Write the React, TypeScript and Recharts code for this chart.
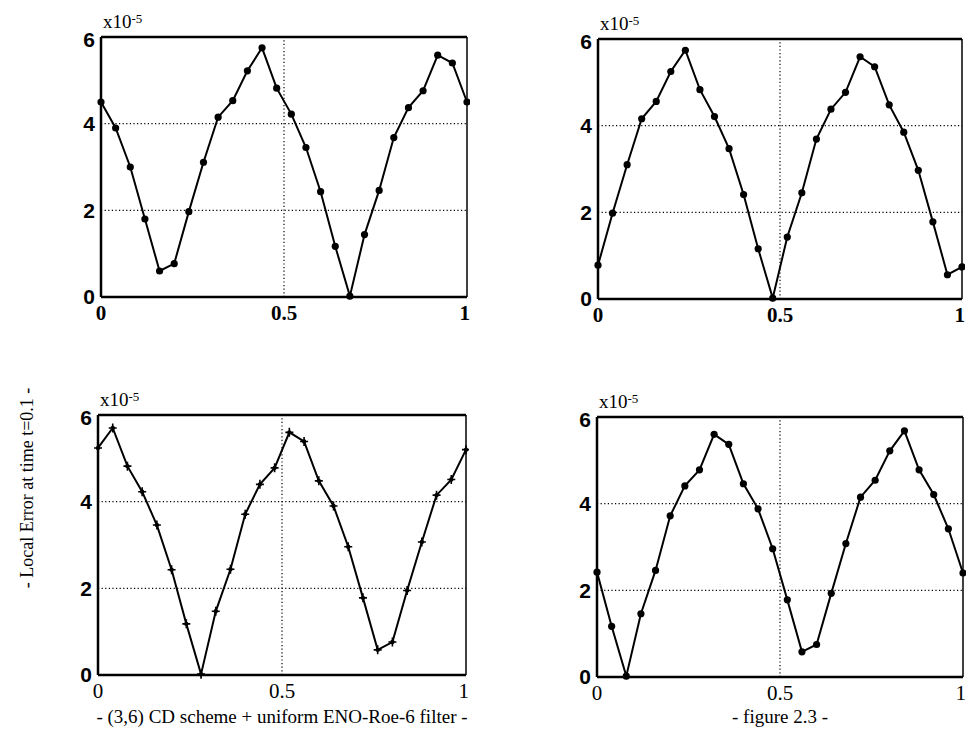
import { LineChart, Line, XAxis, YAxis, ReferenceLine } from 'recharts'

const X_VALUES = [
  0, 0.04, 0.08, 0.12, 0.16, 0.2, 0.24, 0.28, 0.32, 0.36, 0.4, 0.44, 0.48,
  0.52, 0.56, 0.6, 0.64, 0.68, 0.72, 0.76, 0.8, 0.84, 0.88, 0.92, 0.96, 1
]

// errors in units of 1e-5
const TOP_LEFT = [
  4.5, 3.9, 3.0, 1.8, 0.6, 0.77, 1.97, 3.11, 4.15, 4.53, 5.22, 5.75, 4.82,
  4.22, 3.45, 2.43, 1.17, 0.02, 1.44, 2.46, 3.68, 4.37, 4.76, 5.58, 5.4, 4.5
]
const TOP_RIGHT = [
  0.78, 1.98, 3.1, 4.16, 4.56, 5.25, 5.74, 4.83, 4.21, 3.47, 2.41, 1.16, 0.02,
  1.43, 2.45, 3.69, 4.38, 4.77, 5.59, 5.36, 4.48, 3.85, 2.97, 1.78, 0.56, 0.74
]
const BOTTOM_LEFT = [
  5.24, 5.7, 4.82, 4.23, 3.46, 2.43, 1.18, 0.02, 1.47, 2.44, 3.71, 4.4, 4.78,
  5.6, 5.39, 4.48, 3.9, 2.96, 1.78, 0.58, 0.76, 1.95, 3.07, 4.15, 4.51, 5.2
]
const BOTTOM_RIGHT = [
  2.42, 1.17, 0.02, 1.46, 2.46, 3.72, 4.41, 4.78, 5.6, 5.37, 4.46, 3.88, 2.96,
  1.78, 0.58, 0.75, 1.93, 3.08, 4.15, 4.54, 5.22, 5.68, 4.78, 4.21, 3.42, 2.4
]

const X_TICKS = [0, 0.5, 1]
const Y_TICKS = [0, 2, 4, 6]

const toRows = (ys: number[]) => X_VALUES.map((x, i) => ({ x, y: ys[i] }))

const DotMarker = (props: any) => {
  const { cx, cy } = props
  if (cx == null || cy == null) return null
  return <circle cx={cx} cy={cy} r={3.6} fill="#000" />
}

const StarMarker = (props: any) => {
  const { cx, cy } = props
  if (cx == null || cy == null) return null
  return (
    <g>
      <path d={`M${cx - 4},${cy} L${cx + 4},${cy} M${cx},${cy - 4.5} L${cx},${cy + 4.5}`} stroke="#000" strokeWidth={1.6} />
      <circle cx={cx} cy={cy} r={2.2} fill="#000" />
    </g>
  )
}

const Y_LEFT = 40
const M_TOP = 10

function Panel({
  ys,
  left,
  top,
  width,
  height,
  star,
  serifX
}: {
  ys: number[]
  left: number
  top: number
  width: number
  height: number
  star?: boolean
  serifX?: boolean
}) {
  const xTick = serifX
    ? { fill: '#000', fontSize: 21, fontFamily: 'Liberation Serif' }
    : { fill: '#000', fontSize: 21, fontWeight: 700, fontFamily: 'Liberation Serif' }
  return (
    <div style={{ position: 'absolute', left: left - Y_LEFT, top: top - M_TOP }}>
      <LineChart
        width={Y_LEFT + width + 3}
        height={M_TOP + height + 40}
        data={toRows(ys)}
        margin={{ top: M_TOP, right: 3, left: 0, bottom: 10 }}
      >
        <XAxis
          dataKey="x"
          type="number"
          domain={[0, 1]}
          ticks={X_TICKS}
          tickFormatter={(v: number) => String(v)}
          tick={xTick}
          tickLine={false}
          tickSize={4}
          tickMargin={4}
          height={30}
          axisLine={{ stroke: '#000', strokeWidth: 2.5 }}
        />
        <YAxis
          type="number"
          domain={[0, 6]}
          ticks={Y_TICKS}
          tick={{ fill: '#000', fontSize: 21, fontWeight: 700, fontFamily: 'Liberation Sans' }}
          tickLine={false}
          tickSize={4}
          tickMargin={2}
          width={Y_LEFT}
          axisLine={{ stroke: '#000', strokeWidth: 2.5 }}
        />
        <ReferenceLine y={2} stroke="#000" strokeWidth={1.2} strokeDasharray="1.2 2.4" />
        <ReferenceLine y={4} stroke="#000" strokeWidth={1.2} strokeDasharray="1.2 2.4" />
        <ReferenceLine x={0.5} stroke="#000" strokeWidth={1.2} strokeDasharray="1.2 2.4" />
        <ReferenceLine y={6} stroke="#000" strokeWidth={2.5} />
        <ReferenceLine x={1} stroke="#000" strokeWidth={1.5} />
        <Line
          dataKey="y"
          stroke="#000"
          strokeWidth={2}
          dot={star ? <StarMarker /> : <DotMarker />}
          isAnimationActive={false}
        />
      </LineChart>
      <div
        style={{
          position: 'absolute',
          left: Y_LEFT + 2,
          top: -15,
          fontFamily: 'Liberation Serif',
          fontSize: 19,
          lineHeight: '19px',
          color: '#000',
          whiteSpace: 'nowrap'
        }}
      >
        x10<sup style={{ fontSize: 13, verticalAlign: 'top', position: 'relative', top: -3 }}>-5</sup>
      </div>
    </div>
  )
}

export default function App() {
  return (
    <div
      style={{
        position: 'absolute',
        left: 0,
        top: 0,
        width: 966,
        height: 749,
        overflow: 'hidden',
        background: '#fff'
      }}
    >
      <Panel ys={TOP_LEFT} left={101} top={37} width={366} height={260} />
      <Panel ys={TOP_RIGHT} left={598} top={39} width={364} height={260} />
      <Panel ys={BOTTOM_LEFT} left={98} top={415} width={368} height={260} star serifX />
      <Panel ys={BOTTOM_RIGHT} left={597} top={417} width={366} height={260} serifX />
      <div
        style={{
          position: 'absolute',
          left: 27 - 150,
          top: 488 - 10,
          width: 300,
          height: 20,
          textAlign: 'center',
          transform: 'rotate(-90deg)',
          fontFamily: 'Liberation Serif',
          fontSize: 18,
          lineHeight: '20px',
          color: '#000',
          whiteSpace: 'nowrap'
        }}
      >
        - Local Error at time t=0.1 -
      </div>
      <div
        style={{
          position: 'absolute',
          left: 282 - 250,
          top: 706,
          width: 500,
          textAlign: 'center',
          fontFamily: 'Liberation Serif',
          fontSize: 19,
          color: '#000'
        }}
      >
        - (3,6) CD scheme + uniform ENO-Roe-6 filter -
      </div>
      <div
        style={{
          position: 'absolute',
          left: 780 - 150,
          top: 706,
          width: 300,
          textAlign: 'center',
          fontFamily: 'Liberation Serif',
          fontSize: 19,
          color: '#000'
        }}
      >
        - figure 2.3 -
      </div>
    </div>
  )
}
